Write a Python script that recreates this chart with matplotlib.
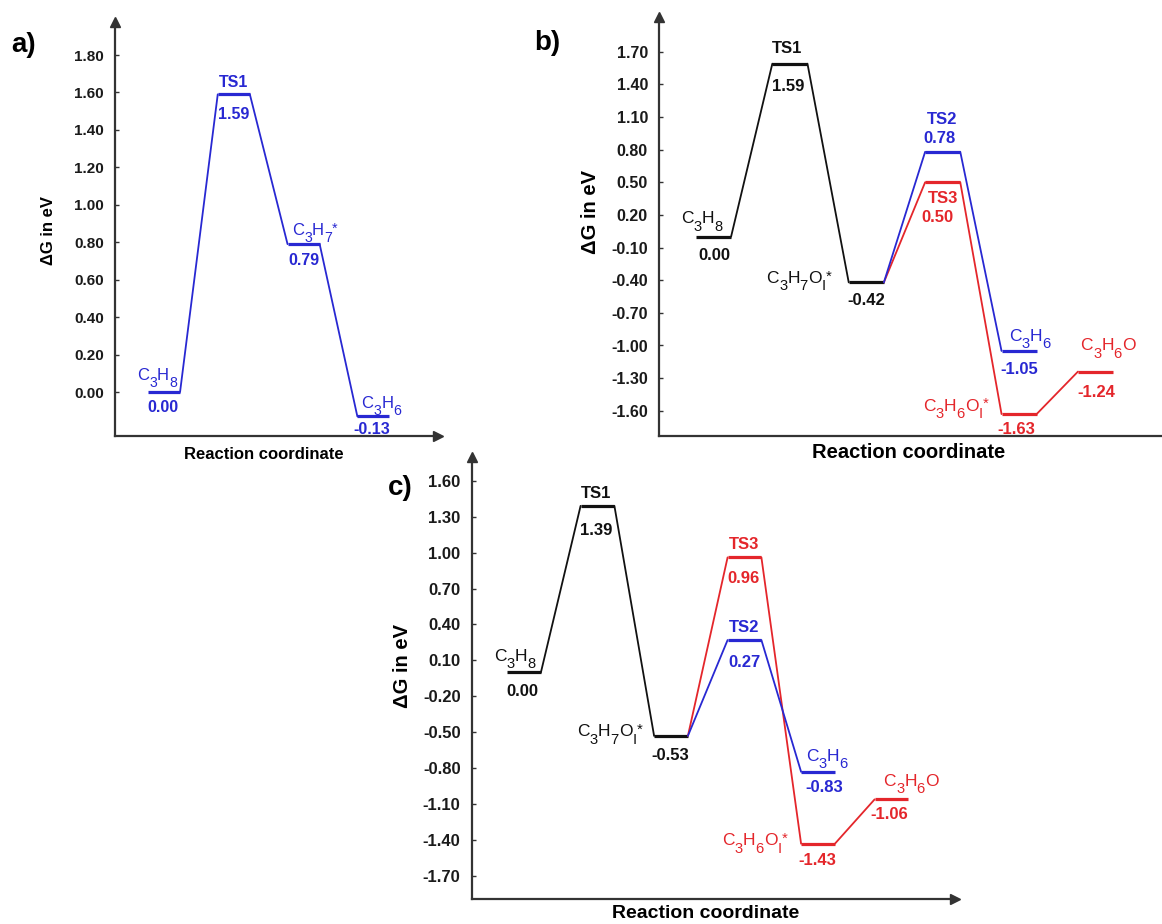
import matplotlib
matplotlib.use('Agg')
import matplotlib.pyplot as plt

W, H = 1162, 924
plt.rcParams['font.family'] = ['Liberation Sans', 'DejaVu Sans']

BLUE = '#2828D2'
RED = '#E4262B'
BLACK = '#111111'
AXC = '#333333'

# ---------------- data ----------------
# species names: "_x" = subscript character, "^x" = superscript character
# panel a (single blue pathway)
a_names = ['C_3H_8', 'TS1', 'C_3H_7^*', 'C_3H_6']
a_energy = [0.00, 1.59, 0.79, -0.13]
a_yticks = [0.00, 0.20, 0.40, 0.60, 0.80, 1.00, 1.20, 1.40, 1.60, 1.80]

# panel b
b_black_names = ['C_3H_8', 'TS1', 'C_3H_7O_I^*']
b_black_energy = [0.00, 1.59, -0.42]
b_blue_names = ['TS2', 'C_3H_6']
b_blue_energy = [0.78, -1.05]
b_red_names = ['TS3', 'C_3H_6O_I^*', 'C_3H_6O']
b_red_energy = [0.50, -1.63, -1.24]
b_yticks = [-1.60, -1.30, -1.00, -0.70, -0.40, -0.10, 0.20, 0.50, 0.80, 1.10, 1.40, 1.70]

# panel c
c_black_names = ['C_3H_8', 'TS1', 'C_3H_7O_I^*']
c_black_energy = [0.00, 1.39, -0.53]
c_blue_names = ['TS2', 'C_3H_6']
c_blue_energy = [0.27, -0.83]
c_red_names = ['TS3', 'C_3H_6O_I^*', 'C_3H_6O']
c_red_energy = [0.96, -1.43, -1.06]
c_yticks = [-1.70, -1.40, -1.10, -0.80, -0.50, -0.20, 0.10, 0.40, 0.70, 1.00, 1.30, 1.60]

xlabel = 'Reaction coordinate'
ylabel = '\u0394G in eV'

# ---------------- layout ----------------
HW = 0.23  # half width of an energy level (in state units)
fig = plt.figure(figsize=(W / 100, H / 100), dpi=100)
renderer = fig.canvas.get_renderer()


def make_axes(left, top, right, bottom, c0, step, y0, ppe):
    ax = fig.add_axes([left / W, 1 - bottom / H, (right - left) / W, (bottom - top) / H])
    ax.set_xlim((left - c0) / step, (right - c0) / step)
    ax.set_ylim(-(bottom - y0) / ppe, (y0 - top) / ppe)
    for s in ('top', 'right'):
        ax.spines[s].set_visible(False)
    for s in ('left', 'bottom'):
        ax.spines[s].set_linewidth(1.6)
        ax.spines[s].set_color(AXC)
    ax.set_xticks([])
    return ax


def style_y(ax, ticks, size):
    ax.set_yticks(ticks)
    ax.set_yticklabels([f'{t:.2f}' for t in ticks], fontsize=size, fontweight='bold', color='#1a1a1a')
    ax.tick_params(axis='y', direction='in', length=3, width=1, color=AXC, pad=8)


def arrows(ax, right=True):
    ax.plot([0], [1], marker='^', ms=7, color=AXC, transform=ax.transAxes, clip_on=False)
    if right:
        ax.plot([1], [0], marker='>', ms=7, color=AXC, transform=ax.transAxes, clip_on=False)


def draw_path(ax, xs, es, color, start=None, lw_level=2.3, lw_link=1.3):
    prev = start
    for x, e in zip(xs, es):
        if prev is not None:
            ax.plot([prev[0] + HW, x - HW], [prev[1], e], color=color, lw=lw_link,
                    solid_capstyle='round')
        ax.plot([x - HW, x + HW], [e, e], color=color, lw=lw_level, solid_capstyle='butt')
        prev = (x, e)


def parse(s):
    segs = []
    i = 0
    while i < len(s):
        c = s[i]
        if c in '_^' and i + 1 < len(s):
            segs.append((s[i + 1], 'sub' if c == '_' else 'sup'))
            i += 2
        else:
            if segs and segs[-1][1] == 'n':
                segs[-1] = (segs[-1][0] + c, 'n')
            else:
                segs.append((c, 'n'))
            i += 1
    return segs


def advance(s, size):
    t = fig.text(0, 0, 'x' + s + 'x', fontsize=size)
    w1 = t.get_window_extent(renderer).width
    t.set_text('xx')
    w0 = t.get_window_extent(renderer).width
    t.remove()
    return w1 - w0


def rich_label(ax, x, e, name, color, dx, dy, ha, va, size):
    segs = parse(name)
    em = size * 100 / 72.0
    cap = 0.716 * em
    drop = 0.42 * em
    sub_size = 0.85 * size
    sizes = [size if k == 'n' else sub_size for _, k in segs]
    advs = [advance(s, sz) for (s, _), sz in zip(segs, sizes)]
    total = sum(advs)
    x0 = dx - (total / 2 if ha == 'center' else (total if ha == 'right' else 0))
    if va == 'bottom':
        base = dy + drop
    else:
        base = dy - (cap - drop) / 2
    cx = x0
    for (s, k), sz, a in zip(segs, sizes, advs):
        shift = 0 if k == 'n' else (-drop if k == 'sub' else 0.15 * em)
        ax.annotate(s, (x, e), xytext=(cx, base + shift), textcoords='offset pixels',
                    ha='left', va='baseline', color=color, fontsize=sz)
        cx += a


def annotate(ax, xs, es, nms, color, name_off, val_off, size, sp_size):
    for x, e, n, no, vo in zip(xs, es, nms, name_off, val_off):
        dx, dy, ha, va = no
        if n.startswith('TS'):
            ax.annotate(n, (x, e), xytext=(dx, dy), textcoords='offset pixels', ha=ha,
                        va='center_baseline', color=color, fontsize=size, fontweight='bold')
        else:
            rich_label(ax, x, e, n, color, dx, dy, ha, va, sp_size)
        ax.annotate(f'{e:.2f}', (x, e), xytext=vo, textcoords='offset pixels',
                    ha='center', va='center_baseline', color=color, fontsize=size,
                    fontweight='bold')


# ---------- panel a ----------
axa = make_axes(115, 22, 438, 436, 164, 69.8, 392, 187.2)
style_y(axa, a_yticks, 11)
arrows(axa)
a_x = list(range(len(a_energy)))
draw_path(axa, a_x, a_energy, BLUE)
annotate(axa, a_x, a_energy, a_names, BLUE,
         [(-7, 5, 'center', 'bottom'), (0, 13, 'center', 'center'),
          (11, 2, 'center', 'bottom'), (8, 1, 'center', 'bottom')],
         [(-1, -14), (0, -19), (0, -15), (-1.5, -12)], 11.5, 12)

# ---------- panel b ----------
axb = make_axes(659, 17, 1162, 436, 713.5, 76.4, 236.7, 108.8)
style_y(axb, b_yticks, 11.5)
arrows(axb, right=False)
bk_x = [0, 1, 2]
bl_x = [3, 4]
rd_x = [3, 4, 5]
draw_path(axb, bk_x, b_black_energy, BLACK)
draw_path(axb, rd_x, b_red_energy, RED, start=(bk_x[-1], b_black_energy[-1]))
draw_path(axb, bl_x, b_blue_energy, BLUE, start=(bk_x[-1], b_black_energy[-1]))
annotate(axb, bk_x, b_black_energy, b_black_names, BLACK,
         [(-12, 6, 'center', 'bottom'), (-3, 17, 'center', 'center'),
          (-35, 2, 'right', 'center')],
         [(0.5, -17), (-2, -21), (0, -17)], 12, 12.5)
annotate(axb, bl_x, b_blue_energy, b_blue_names, BLUE,
         [(-1, 34, 'center', 'center'), (11, 3, 'center', 'bottom')],
         [(-3.5, 15), (0, -17)], 12, 12.5)
annotate(axb, rd_x, b_red_energy, b_red_names, RED,
         [(0.5, -15, 'center', 'center'), (-31, 6, 'right', 'center'),
          (12.5, 14, 'center', 'bottom')],
         [(-5.5, -34), (-2.5, -14), (0.5, -19)], 12, 12.5)

# ---------- panel c ----------
axc = make_axes(471.7, 457, 955, 899.3, 524, 73.5, 672.4, 119.8)
style_y(axc, c_yticks, 12)
arrows(axc)
draw_path(axc, bk_x, c_black_energy, BLACK)
draw_path(axc, rd_x, c_red_energy, RED, start=(bk_x[-1], c_black_energy[-1]))
draw_path(axc, bl_x, c_blue_energy, BLUE, start=(bk_x[-1], c_black_energy[-1]))
annotate(axc, bk_x, c_black_energy, c_black_names, BLACK,
         [(-9.5, 4, 'center', 'bottom'), (-1, 14, 'center', 'center'),
          (-29, 2, 'right', 'center')],
         [(-1.5, -18), (-1, -23), (-1, -18)], 12, 12.5)
annotate(axc, bl_x, c_blue_energy, c_blue_names, BLUE,
         [(-0.5, 14, 'center', 'center'), (9, 4, 'center', 'bottom')],
         [(-0.5, -21), (6, -14)], 12, 12.5)
annotate(axc, rd_x, c_red_energy, c_red_names, RED,
         [(-0.5, 14, 'center', 'center'), (-31, 1, 'right', 'center'),
          (19.5, 6, 'center', 'bottom')],
         [(-1.2, -20), (-1, -15), (-2.5, -14)], 12, 12.5)

# ---------- axis titles & panel letters ----------
def ftext(x, y, s, **kw):
    fig.text(x / W, 1 - y / H, s, **kw)

ftext(264, 454, xlabel, ha='center', va='center', fontsize=12, fontweight='bold')
ftext(909, 453, xlabel, ha='center', va='center', fontsize=14.5, fontweight='bold')
ftext(706, 913, xlabel, ha='center', va='center', fontsize=14, fontweight='bold')
ftext(48, 230, ylabel, ha='center', va='center', rotation=90, fontsize=12, fontweight='bold')
ftext(590, 212, ylabel, ha='center', va='center', rotation=90, fontsize=14.5, fontweight='bold')
ftext(403, 666, ylabel, ha='center', va='center', rotation=90, fontsize=14.5, fontweight='bold')
ftext(24, 45, 'a)', ha='center', va='center', fontsize=20, fontweight='bold')
ftext(547, 43, 'b)', ha='center', va='center', fontsize=20, fontweight='bold')
ftext(400, 488, 'c)', ha='center', va='center', fontsize=20, fontweight='bold')

fig.savefig('out.png', dpi=100)
